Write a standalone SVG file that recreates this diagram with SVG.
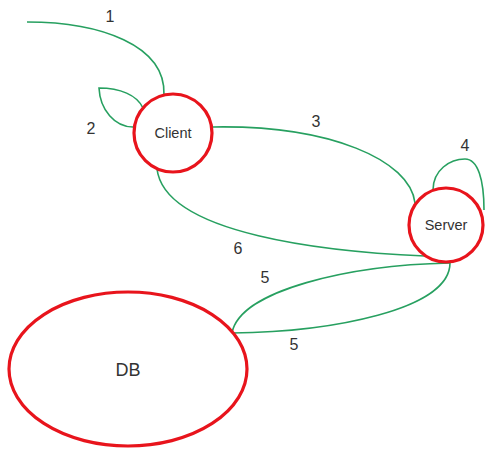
<svg xmlns="http://www.w3.org/2000/svg" width="486" height="451" viewBox="0 0 486 451">
<style>
.node{fill:#fff;stroke:#e8141c;stroke-width:3.2}
.edge{fill:none;stroke:#27a060;stroke-width:1.6}
.lbl{font-family:"Liberation Sans",Arial,sans-serif;font-size:16px;fill:#333;text-anchor:middle}
.name{font-family:"Liberation Sans",Arial,sans-serif;font-size:14.5px;fill:#333;text-anchor:middle}
</style>
<rect width="486" height="451" fill="#fff"/>
<g id="connectors">
<path class="edge" d="M27,22 C100,22 166,45 164,95"/>
<path class="edge" d="M143,108 C137,95 120,88 99,88 C100,110 115,127 133,127"/>
<path class="edge" d="M213,127 C330,125 410,160 415,203"/>
<path class="edge" d="M433,190 C433,170 450,159 465,159 C478,159 484,180 484,210"/>
<path class="edge" d="M157,169 C165,235 330,252 425,256"/>
<path class="edge" d="M450,263 C350,265 240,290 232,333"/>
<path class="edge" d="M232,333 C330,332 450,310 450,263"/>
<text class="lbl" x="110" y="22">1</text>
<text class="lbl" x="91" y="134">2</text>
<text class="lbl" x="316" y="127">3</text>
<text class="lbl" x="465" y="151">4</text>
<text class="lbl" x="238" y="254">6</text>
<text class="lbl" x="265" y="283">5</text>
<text class="lbl" x="294" y="350">5</text>
</g>
<g id="client">
<circle class="node" cx="173" cy="133" r="39"/>
<text class="name" x="173" y="138">Client</text>
</g>
<g id="server">
<circle class="node" cx="446" cy="225" r="37"/>
<text class="name" x="446" y="230">Server</text>
</g>
<g id="db">
<ellipse class="node" cx="128" cy="369" rx="119" ry="77"/>
<text class="lbl" x="128" y="376" style="font-size:18px">DB</text>
</g>
</svg>
